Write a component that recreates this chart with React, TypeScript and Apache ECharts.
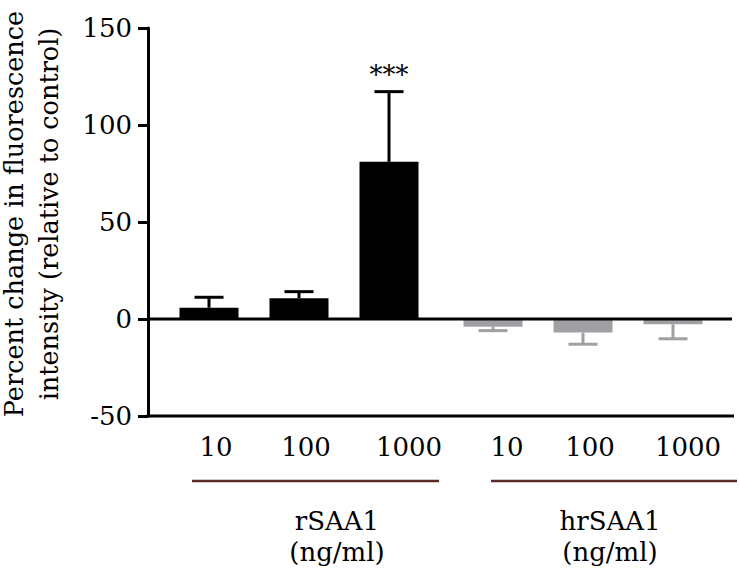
import React, { useEffect, useRef } from "react";
import * as echarts from "echarts";

const doseLabels = ["10", "100", "1000"];
const rSAA1Means = [5.8, 10.7, 81];
const rSAA1Errors = [5.4, 3.4, 36.2];
const hrSAA1Means = [-4, -7, -2.7];
const hrSAA1Errors = [2, 6, 7.5];
const rSAA1Sig = ["", "", "***"];
const hrSAA1Sig = ["", "", ""];
const yTicks = [-50, 0, 50, 100, 150];
const yTitle = ["Percent change in fluorescence", "intensity (relative to control)"];
const groupNames = ["rSAA1", "hrSAA1"];
const groupUnit = "(ng/ml)";

const FONT = "DejaVu Serif";
const BLACK = "#000000";
const GRAY = "#a0a0a4";
const BROWN = "#5a2a26";
// horizontal nudges of the dose labels (pixels), per group
const labelShift = [
  [7, 7, 20],
  [14, 7, 15],
];

export default function App() {
  const ref = useRef<HTMLDivElement>(null);
  useEffect(() => {
    if (!ref.current) return;
    const chart = echarts.init(ref.current, null, { renderer: "svg" });
    const yMin = yTicks[0];
    const yMax = yTicks[yTicks.length - 1];

    const errSeries = (gi: number, means: number[], errs: number[], sig: string[], color: string) => ({
      type: "custom",
      xAxisIndex: gi,
      yAxisIndex: gi,
      z: 5,
      data: means.map((m, i) => [i, m, errs[i]]),
      renderItem: (params: any, api: any) => {
        const i = api.value(0);
        const m = api.value(1);
        const e = api.value(2);
        const dir = m >= 0 ? 1 : -1;
        const p0 = api.coord([i, m]);
        const p1 = api.coord([i, m + dir * e]);
        const cap = 14.5;
        const children: any[] = [
          { type: "line", shape: { x1: p0[0], y1: p0[1], x2: p1[0], y2: p1[1] }, style: { stroke: color, lineWidth: 3 } },
          { type: "line", shape: { x1: p1[0] - cap, y1: p1[1], x2: p1[0] + cap, y2: p1[1] }, style: { stroke: color, lineWidth: 3 } },
        ];
        const s = sig[params.dataIndex];
        if (s) {
          children.push({
            type: "text",
            style: { text: s, x: p1[0], y: p1[1] - 4, align: "center", verticalAlign: "bottom", fontSize: 26, fontFamily: FONT, fill: BLACK },
          });
        }
        return { type: "group", children };
      },
    });

    const makeXAxis = (gi: number) => {
      const rich: any = {};
      labelShift[gi].forEach((s, i) => {
        rich["s" + i] = { fontSize: 26, fontFamily: FONT, color: BLACK, padding: [0, 0, 0, 2 * s] };
      });
      return {
        type: "category",
        gridIndex: gi,
        data: doseLabels,
        axisLine: { show: false, onZero: false },
        axisTick: { show: false },
        axisLabel: {
          interval: 0,
          hideOverlap: false,
          fontSize: 26,
          fontFamily: FONT,
          color: BLACK,
          margin: 18,
          formatter: (v: string, i: number) => "{s" + i + "|" + v + "}",
          rich,
        },
      };
    };

    chart.setOption({
      animation: false,
      grid: [
        { left: 164, width: 270, top: 28, bottom: 154 },
        { left: 448, width: 270, top: 28, bottom: 154 },
      ],
      xAxis: [makeXAxis(0), makeXAxis(1)],
      yAxis: [
        {
          type: "value",
          gridIndex: 0,
          min: yMin,
          max: yMax,
          interval: 50,
          offset: 16,
          splitLine: { show: false },
          axisLine: { show: true, lineStyle: { color: BLACK, width: 3 } },
          axisTick: { show: true, length: 10, lineStyle: { color: BLACK, width: 3 } },
          axisLabel: { fontSize: 26, fontFamily: FONT, color: BLACK, margin: 16 },
        },
        {
          type: "value",
          gridIndex: 1,
          min: yMin,
          max: yMax,
          interval: 50,
          show: false,
          splitLine: { show: false },
        },
      ],
      series: [
        {
          type: "bar",
          xAxisIndex: 0,
          yAxisIndex: 0,
          data: rSAA1Means,
          barWidth: 59,
          itemStyle: { color: BLACK },
        },
        {
          type: "bar",
          xAxisIndex: 1,
          yAxisIndex: 1,
          data: hrSAA1Means,
          barWidth: 59,
          itemStyle: { color: GRAY },
        },
        errSeries(0, rSAA1Means, rSAA1Errors, rSAA1Sig, BLACK),
        errSeries(1, hrSAA1Means, hrSAA1Errors, hrSAA1Sig, GRAY),
      ],
    });

    const zeroY = chart.convertToPixel({ yAxisIndex: 0 }, 0) as number;
    const bottomY = chart.convertToPixel({ yAxisIndex: 0 }, yMin) as number;
    const axisX = 148;
    const titleX = [14, 49];

    chart.setOption({
      graphic: [
        { type: "line", z: 10, shape: { x1: axisX, y1: zeroY, x2: 732, y2: zeroY }, style: { stroke: BLACK, lineWidth: 3 } },
        { type: "line", z: 10, shape: { x1: axisX - 1.5, y1: bottomY, x2: 734, y2: bottomY }, style: { stroke: BLACK, lineWidth: 3 } },
        ...yTitle.map((t, i) => ({
          type: "text",
          x: titleX[i],
          y: 214,
          rotation: Math.PI / 2,
          style: {
            text: t,
            align: "center",
            verticalAlign: "middle",
            fontSize: 25.5,
            lineHeight: 26,
            fontFamily: FONT,
            fill: BLACK,
          },
        })),
        { type: "line", shape: { x1: 192, y1: 481, x2: 439, y2: 481 }, style: { stroke: BROWN, lineWidth: 2.5 } },
        { type: "line", shape: { x1: 491, y1: 481, x2: 737, y2: 481 }, style: { stroke: BROWN, lineWidth: 2.5 } },
        {
          type: "text",
          x: 337,
          y: 536,
          style: { text: groupNames[0] + "\n" + groupUnit, align: "center", verticalAlign: "middle", fontSize: 26, lineHeight: 31, fontFamily: FONT, fill: BLACK },
        },
        {
          type: "text",
          x: 610,
          y: 536,
          style: { text: groupNames[1] + "\n" + groupUnit, align: "center", verticalAlign: "middle", fontSize: 26, lineHeight: 31, fontFamily: FONT, fill: BLACK },
        },
      ],
    });

    return () => chart.dispose();
  }, []);

  return <div ref={ref} style={{ width: 739, height: 570, position: "absolute", left: 0, top: 0 }} />;
}
